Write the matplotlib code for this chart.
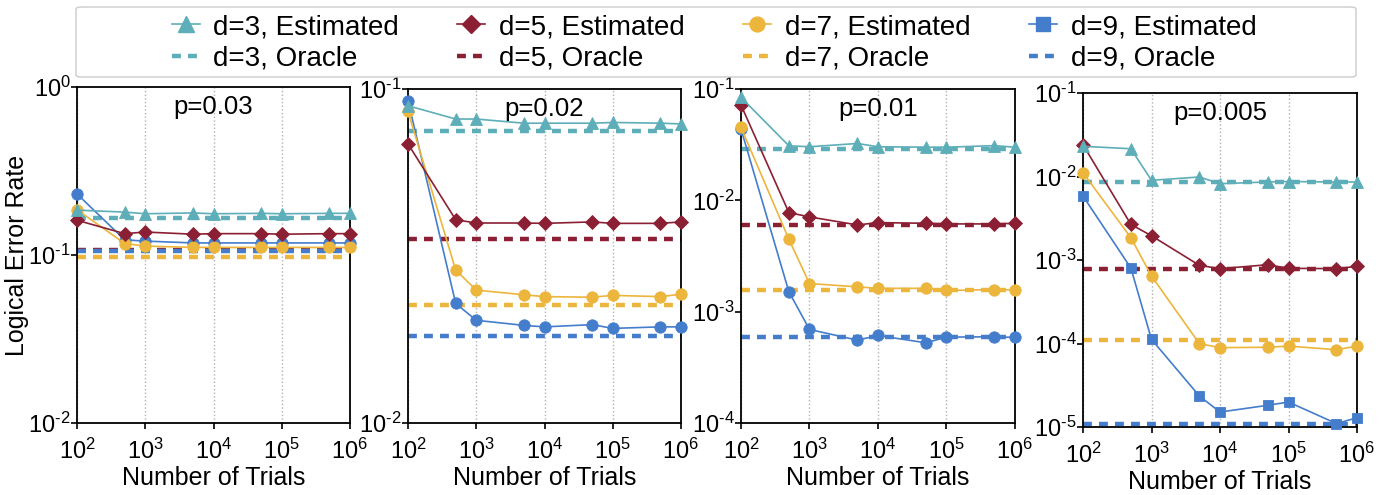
import matplotlib
matplotlib.use('Agg')
import matplotlib.pyplot as plt
from matplotlib.lines import Line2D
from matplotlib.patches import FancyBboxPatch
from matplotlib.ticker import FixedLocator, NullLocator, FixedFormatter

plt.rcParams['font.family'] = ['Liberation Sans', 'DejaVu Sans']
plt.rcParams['mathtext.fontset'] = 'custom'
plt.rcParams['mathtext.rm'] = 'Liberation Sans'
plt.rcParams['mathtext.it'] = 'Liberation Sans:italic'
plt.rcParams['mathtext.default'] = 'regular'

# ---------------- data ----------------
trials = [1e2, 5e2, 1e3, 5e3, 1e4, 5e4, 1e5, 5e5, 1e6]
panel_titles = ['p=0.03', 'p=0.02', 'p=0.01', 'p=0.005']
distances = [3, 5, 7, 9]

# p = 0.03
est_p03_d3 = [0.185, 0.180, 0.176, 0.178, 0.176, 0.177, 0.176, 0.177, 0.177]
est_p03_d5 = [0.161, 0.134, 0.137, 0.133, 0.134, 0.134, 0.133, 0.134, 0.134]
est_p03_d7 = [0.186, 0.117, 0.113, 0.111, 0.111, 0.111, 0.111, 0.111, 0.111]
est_p03_d9 = [0.231, 0.123, 0.121, 0.118, 0.118, 0.118, 0.118, 0.118, 0.118]
oracle_p03 = [0.166, 0.107, 0.097, 0.106]

# p = 0.02
est_p02_d3 = [0.0891, 0.0813, 0.0813, 0.0790, 0.0790, 0.0790, 0.0794, 0.0790, 0.0786]
est_p02_d5 = [0.0685, 0.0406, 0.0397, 0.0397, 0.0396, 0.0400, 0.0396, 0.0396, 0.0400]
est_p02_d7 = [0.0857, 0.0287, 0.0250, 0.0242, 0.0239, 0.0238, 0.0241, 0.0239, 0.0243]
est_p02_d9 = [0.0923, 0.0228, 0.0203, 0.0196, 0.0194, 0.0197, 0.0192, 0.0194, 0.0194]
oracle_p02 = [0.0748, 0.0355, 0.0225, 0.0182]

# p = 0.01
est_p01_d3 = [0.0841, 0.0309, 0.0303, 0.0324, 0.0303, 0.0300, 0.0300, 0.0310, 0.0300]
est_p01_d5 = [0.0718, 0.00776, 0.00710, 0.00601, 0.00631, 0.00622, 0.00614, 0.00614, 0.00622]
est_p01_d7 = [0.0452, 0.00447, 0.00179, 0.00167, 0.00162, 0.00162, 0.00155, 0.00158, 0.00157]
est_p01_d9 = [0.0437, 0.00151, 0.000692, 0.000555, 0.000611, 0.000525, 0.000591, 0.000595, 0.000587]
oracle_p01 = [0.0289, 0.00601, 0.00155, 0.000591]

# p = 0.005
est_p005_d3 = [0.0230, 0.0215, 0.0090, 0.00987, 0.0082, 0.0086, 0.0087, 0.0086, 0.0086]
est_p005_d5 = [0.0240, 0.00267, 0.00195, 0.000863, 0.000787, 0.000878, 0.000795, 0.000787, 0.000839]
est_p005_d7 = [0.0111, 0.00185, 0.000643, 0.0000996, 0.0000892, 0.0000902, 0.0000931, 0.0000843, 0.0000931]
est_p005_d9 = [0.00583, 0.000802, 0.000112, 0.0000235, 0.0000151, 0.0000182, 0.0000199, 0.0000110, 0.0000129]
oracle_p005 = [0.0086, 0.000773, 0.000111, 0.0000110]

estimated = [
    [est_p03_d3, est_p03_d5, est_p03_d7, est_p03_d9],
    [est_p02_d3, est_p02_d5, est_p02_d7, est_p02_d9],
    [est_p01_d3, est_p01_d5, est_p01_d7, est_p01_d9],
    [est_p005_d3, est_p005_d5, est_p005_d7, est_p005_d9],
]
oracles = [oracle_p03, oracle_p02, oracle_p01, oracle_p005]

y_exponents = [(-2, 0), (-2, -1), (-4, -1), (-5, -1)]
x_exponents = [2, 3, 4, 5, 6]

# ---------------- styles ----------------
colors = ['#5DAEB8', '#8B2034', '#ECB53C', '#447DCC']
markers_default = ['^', 'D', 'o', 'o']
markers_last = ['^', 'D', 'o', 's']
msizes = {'^': 8.5, 'D': 6.8, 'o': 8.2, 's': 7.5}


def pow_label(e):
    return r'$10^{\text{%d}}$' % e


# axes rectangles in pixels: left, right, top, bottom
W, H = 1391, 495
rects_px = [(77, 350, 87, 423), (408, 681, 89, 423), (741, 1015, 89, 423), (1083, 1357, 93, 427)]

fig = plt.figure(figsize=(W / 100, H / 100), dpi=100)

for i in range(4):
    l, r, t, b = rects_px[i]
    ax = fig.add_axes([l / W, 1 - b / H, (r - l) / W, (b - t) / H])
    ax.set_xscale('log')
    ax.set_yscale('log')
    mk = markers_last if i == 3 else markers_default
    # oracles
    for j in range(4):
        ax.axhline(oracles[i][j], color=colors[j], lw=3.2, ls=(0, (2.0, 1.6)), zorder=2)
    # estimated (reverse so d=3 on top)
    for j in reversed(range(4)):
        ax.plot(trials, estimated[i][j], color=colors[j], lw=1.2, marker=mk[j],
                markersize=msizes[mk[j]], markeredgewidth=0.6, markeredgecolor=colors[j],
                clip_on=False, zorder=3 + (4 - j))
    ax.set_xlim(1e2, 1e6)
    lo, hi = y_exponents[i]
    ax.set_ylim(10.0 ** lo, 10.0 ** hi)
    ax.xaxis.set_major_locator(FixedLocator([10.0 ** e for e in x_exponents]))
    ax.xaxis.set_major_formatter(FixedFormatter([pow_label(e) for e in x_exponents]))
    ax.xaxis.set_minor_locator(NullLocator())
    yexps = list(range(lo, hi + 1))
    ax.yaxis.set_major_locator(FixedLocator([10.0 ** e for e in yexps]))
    ax.yaxis.set_major_formatter(FixedFormatter([pow_label(e) for e in yexps]))
    ax.yaxis.set_minor_locator(NullLocator())
    ax.grid(axis='x', which='major', color='#b0b0b0', ls=':', lw=1.0)
    ax.set_axisbelow(True)
    for s in ax.spines.values():
        s.set_linewidth(1.3)
        s.set_color('black')
    ax.tick_params(axis='both', which='major', direction='out', length=4, width=1.2,
                   labelsize=17, colors='black')
    ax.tick_params(axis='y', pad=0.5)
    ax.tick_params(axis='x', pad=7)
    ax.set_xlabel('Number of Trials', fontsize=18, labelpad=2)
    if i == 0:
        ax.set_ylabel('Logical Error Rate', fontsize=18)
        ax.yaxis.set_label_coords((29 - l) / (r - l), 0.5)
    ax.text(0.5, 0.975, panel_titles[i], transform=ax.transAxes, ha='center', va='top',
            fontsize=18.5)

# legend
handles, labels = [], []
for j in range(4):
    handles.append(Line2D([], [], color=colors[j], lw=1.2, marker=markers_last[j],
                          markersize=msizes[markers_last[j]] + 2.5, markeredgecolor=colors[j]))
    labels.append('d=%d, Estimated' % distances[j])
    handles.append(Line2D([], [], color=colors[j], lw=3.2, ls=(0, (2.0, 1.6))))
    labels.append('d=%d, Oracle' % distances[j])

box = FancyBboxPatch((76 / W, 1 - 77 / H), 1280 / W, 70 / H,
                     boxstyle='round,pad=0,rounding_size=0.004',
                     transform=fig.transFigure, facecolor='white', edgecolor='#cccccc',
                     lw=1.0, zorder=0)
fig.patches.append(box)

fig.legend(handles, labels, ncol=4, loc='center', bbox_to_anchor=(714 / W, 1 - 43 / H),
           frameon=False, fontsize=20, handlelength=1.0, handletextpad=0.5,
           columnspacing=2.1, labelspacing=0.2, numpoints=1, borderpad=0.2)

fig.savefig('out.png', dpi=100)
